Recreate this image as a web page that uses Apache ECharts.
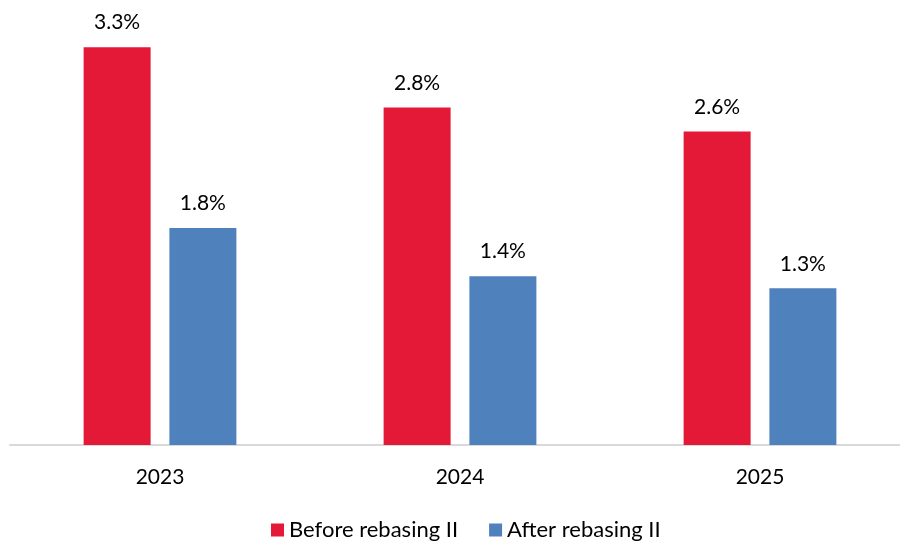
<!DOCTYPE html>
<html>
<head>
<meta charset="utf-8">
<style>
  html, body { margin: 0; padding: 0; background: #fff; overflow: hidden; }
  #chart { width: 920px; height: 542px; }
</style>
<script src="https://cdn.jsdelivr.net/npm/echarts@6/dist/echarts.min.js"></script>
</head>
<body>
<div id="chart"></div>
<script>
const years = ['2023', '2024', '2025'];
const beforeRebasing = [3.3, 2.8, 2.6];
const afterRebasing = [1.8, 1.4, 1.3];
const seriesNames = ['Before rebasing II', 'After rebasing II'];

const FONT = 'Lato, "Open Sans", sans-serif';

const chart = echarts.init(document.getElementById('chart'), null, { renderer: 'canvas' });

function valueLabel() {
  return {
    show: true,
    position: 'top',
    distance: 14,
    color: '#000',
    fontFamily: FONT,
    fontSize: 21,
    formatter: p => p.value.toFixed(1) + '%'
  };
}

chart.setOption({
  animation: false,
  backgroundColor: '#ffffff',
  // the axis runs slightly past the visible right edge
  grid: { left: 10, width: 900, top: 11, bottom: 97, containLabel: false },
  legend: {
    left: 266,
    top: 514,
    itemWidth: 13,
    itemHeight: 13,
    itemGap: 31,
    icon: 'rect',
    textStyle: { color: '#000', fontFamily: FONT, fontSize: 22, padding: [0, 0, 0, 0] },
    data: seriesNames
  },
  xAxis: {
    type: 'category',
    data: years,
    axisLine: { show: true, lineStyle: { color: '#d9d9d9', width: 2 } },
    axisTick: { show: false },
    axisLabel: { color: '#000', fontFamily: FONT, fontSize: 21, margin: 22 }
  },
  yAxis: {
    type: 'value',
    min: 0,
    max: 3.6,
    show: false,
    splitLine: { show: false }
  },
  series: [
    {
      name: seriesNames[0],
      type: 'bar',
      data: beforeRebasing,
      barWidth: 67,
      barGap: '28%',
      itemStyle: { color: '#e31937' },
      label: valueLabel()
    },
    {
      name: seriesNames[1],
      type: 'bar',
      data: afterRebasing,
      barWidth: 67,
      barGap: '28%',
      itemStyle: { color: '#4f81bd' },
      label: valueLabel()
    }
  ]
});
</script>
</body>
</html>
